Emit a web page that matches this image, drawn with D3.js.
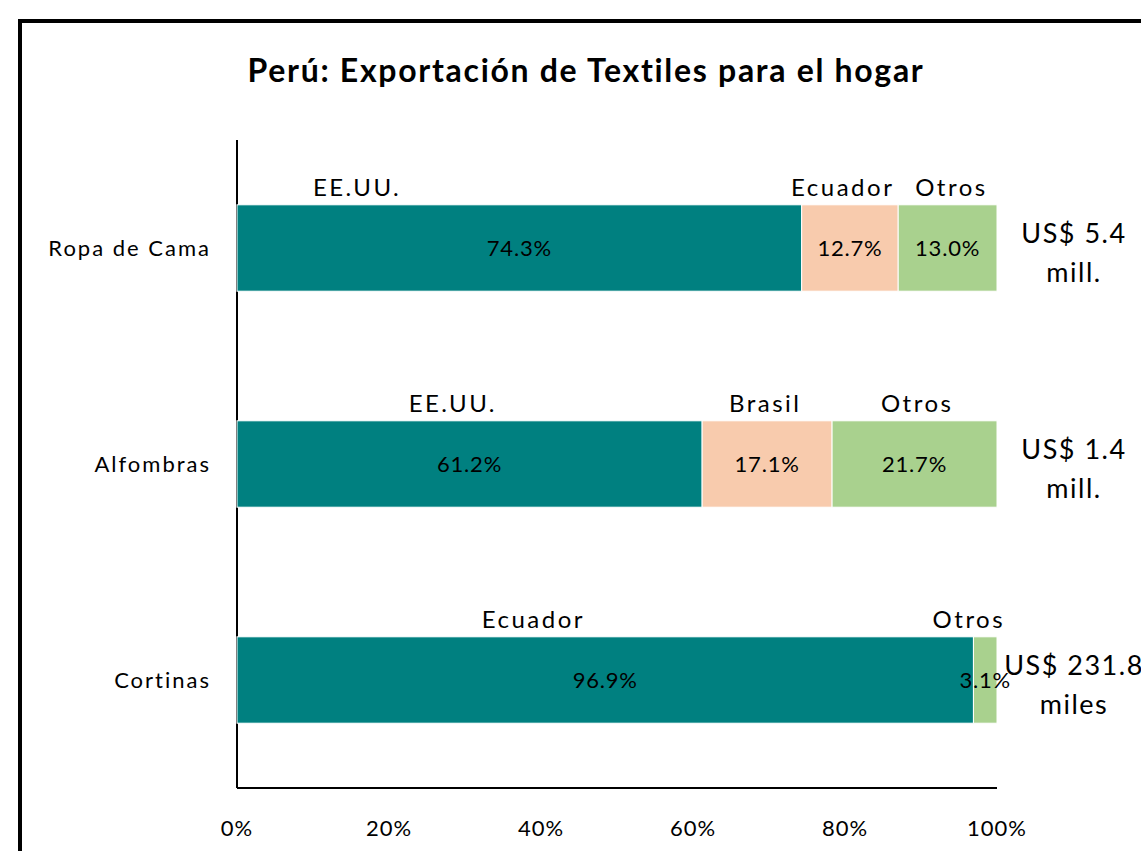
<!DOCTYPE html>
<html lang="es">
<head>
  <meta charset="UTF-8">
  <title>Perú: Exportación de Textiles para el hogar</title>
  <style>
    body { margin: 0; background: #fff; }
    svg { display: block; font-family: Lato, "Noto Sans", sans-serif; }
  </style>
</head>
<body>
  <div id="chart"></div>
  <script src="https://d3js.org/d3.v7.min.js"></script>
  <script>
    const width = 1141
    const height = 851

    // data
    const categories = ['Ropa de Cama', 'Alfombras', 'Cortinas']
    const seriesNames = [
      ['EE.UU.', 'Ecuador', 'Otros'],
      ['EE.UU.', 'Brasil', 'Otros'],
      ['Ecuador', 'Otros']
    ]
    const seriesValues = [
      [74.3, 12.7, 13.0],
      [61.2, 17.1, 21.7],
      [96.9, 3.1]
    ]
    // where each country name sits above its bar, in % of the axis
    const nameAt = [
      [15.8, 79.7, 94.0],
      [28.4, 69.5, 89.5],
      [39.0, 96.3]
    ]
    const totals = [
      ['US$ 5.4', 'mill.'],
      ['US$ 1.4', 'mill.'],
      ['US$ 231.8', 'miles']
    ]
    const xTicks = [0, 20, 40, 60, 80, 100]

    const colorsRow = [
      ['#008080', '#F8CBAD', '#A9D18E'],
      ['#008080', '#F8CBAD', '#A9D18E'],
      ['#008080', '#A9D18E']
    ]

    const svg = d3.select('#chart').append('svg')
      .attr('width', width)
      .attr('height', height)

    // outer frame (runs off the right/bottom edge)
    svg.append('rect')
      .attr('x', 20).attr('y', 21)
      .attr('width', 1200).attr('height', 900)
      .attr('fill', 'none')
      .attr('stroke', '#000')
      .attr('stroke-width', 4)

    svg.append('text')
      .attr('x', 586).attr('y', 82)
      .attr('text-anchor', 'middle')
      .attr('font-size', 32)
      .attr('font-weight', 'bold')
      .attr('letter-spacing', 1.7)
      .text('Perú: Exportación de Textiles para el hogar')

    const x = d3.scaleLinear().domain([0, 100]).range([237, 997])
    const y = d3.scaleBand().domain(categories).range([140, 788]).paddingInner(0.6).paddingOuter(0.3)

    // axes lines
    svg.append('line')
      .attr('x1', x(0)).attr('x2', x(0))
      .attr('y1', 140).attr('y2', 788)
      .attr('stroke', '#000').attr('stroke-width', 2)
    svg.append('line')
      .attr('x1', x(0)).attr('x2', x(100))
      .attr('y1', 788).attr('y2', 788)
      .attr('stroke', '#000').attr('stroke-width', 2)

    svg.append('g').selectAll('text')
      .data(xTicks)
      .join('text')
      .attr('x', d => x(d))
      .attr('y', 836)
      .attr('text-anchor', 'middle')
      .attr('font-size', 22)
      .attr('letter-spacing', 1)
      .text(d => d + '%')

    svg.append('g').selectAll('text')
      .data(categories)
      .join('text')
      .attr('x', 211)
      .attr('y', d => y(d) + y.bandwidth() / 2 + 8)
      .attr('text-anchor', 'end')
      .attr('font-size', 22)
      .attr('letter-spacing', 2)
      .text(d => d)

    categories.forEach((cat, i) => {
      const g = svg.append('g')
      const top = y(cat)
      const bh = y.bandwidth()
      let acc = 0
      const segs = seriesValues[i].map((v, j) => {
        const s = { start: acc, value: v, color: colorsRow[i][j], name: seriesNames[i][j], at: nameAt[i][j] }
        acc += v
        return s
      })

      g.selectAll('rect')
        .data(segs)
        .join('rect')
        .attr('x', d => x(d.start))
        .attr('y', top)
        .attr('width', d => x(d.start + d.value) - x(d.start))
        .attr('height', bh)
        .attr('fill', d => d.color)
        .attr('stroke', '#fff')
        .attr('stroke-width', 1)

      g.selectAll('text.val')
        .data(segs)
        .join('text')
        .attr('class', 'val')
        .attr('x', d => x(d.start + d.value / 2))
        .attr('y', top + bh / 2 + 8)
        .attr('text-anchor', 'middle')
        .attr('font-size', 22)
        .attr('letter-spacing', 0.8)
        .text(d => d.value.toFixed(1) + '%')

      g.selectAll('text.name')
        .data(segs)
        .join('text')
        .attr('class', 'name')
        .attr('x', d => x(d.at))
        .attr('y', top - 9)
        .attr('text-anchor', 'middle')
        .attr('font-size', 24)
        .attr('letter-spacing', 2.5)
        .text(d => d.name)

      const tot = g.append('text')
        .attr('x', 1074)
        .attr('y', top + bh / 2 - 5)
        .attr('text-anchor', 'middle')
        .attr('font-size', 27)
        .attr('letter-spacing', 1.5)
      tot.append('tspan').attr('x', 1074).text(totals[i][0])
      tot.append('tspan').attr('x', 1074).attr('dy', 39).text(totals[i][1])
    })
  </script>
</body>
</html>
